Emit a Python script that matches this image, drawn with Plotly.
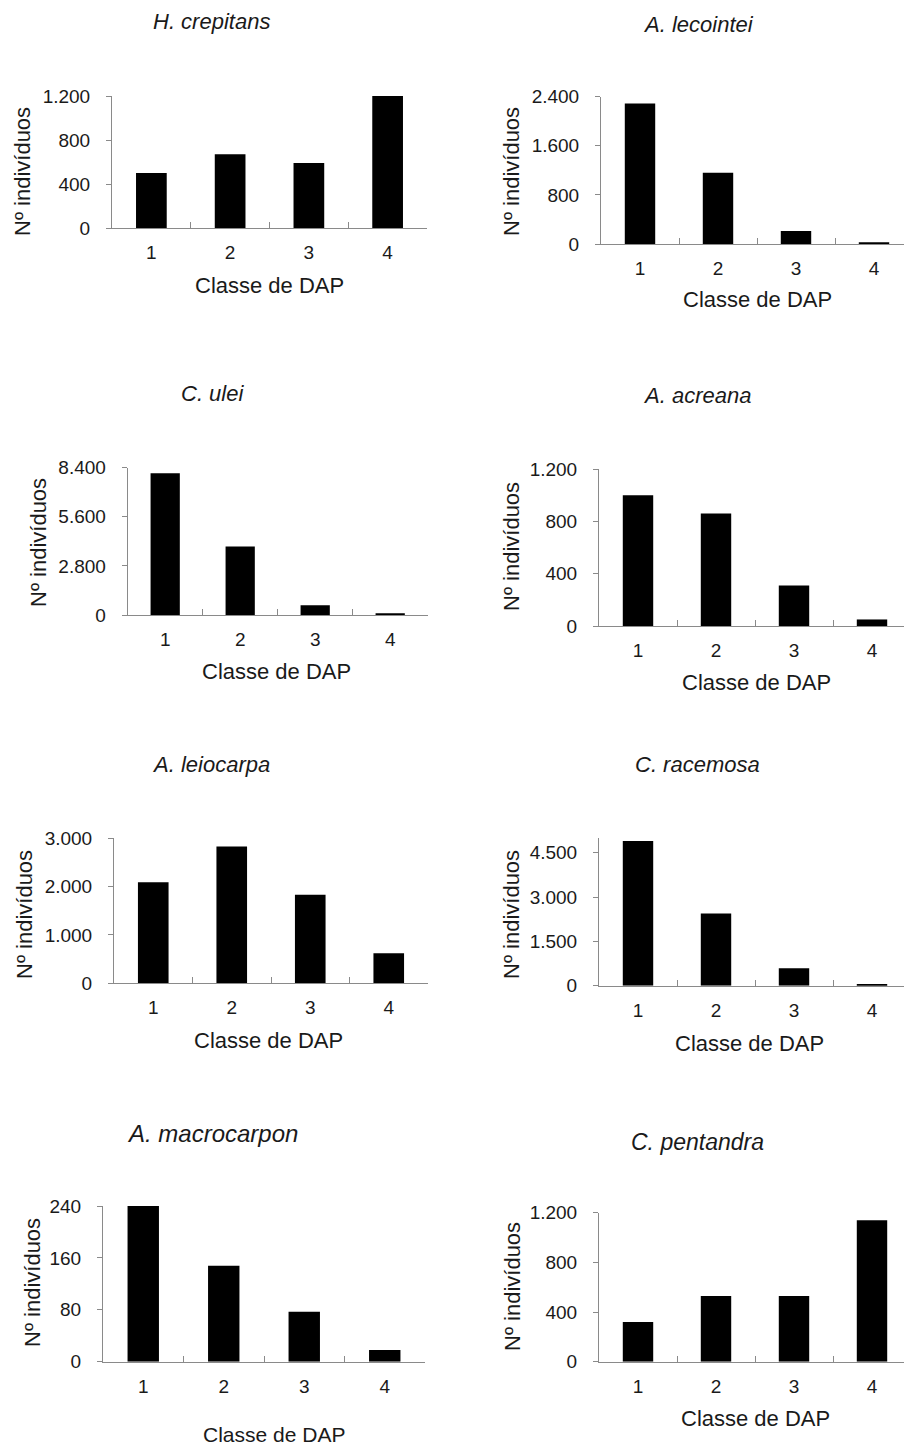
import plotly.graph_objects as go

W, H = 904, 1448

# ---- data ----
classes = ["1", "2", "3", "4"]
species = ["H. crepitans", "A. lecointei", "C. ulei", "A. acreana",
           "A. leiocarpa", "C. racemosa", "A. macrocarpon", "C. pentandra"]
h_crepitans = [500, 670, 590, 1200]
a_lecointei = [2290, 1160, 210, 30]
c_ulei = [8080, 3900, 550, 100]
a_acreana = [1000, 860, 310, 50]
a_leiocarpa = [2090, 2830, 1830, 620]
c_racemosa = [4900, 2440, 590, 60]
a_macrocarpon = [240, 148, 77, 18]
c_pentandra = [320, 530, 530, 1140]

ticks_hc = [0, 400, 800, 1200]
labels_hc = ["0", "400", "800", "1.200"]
ticks_al = [0, 800, 1600, 2400]
labels_al = ["0", "800", "1.600", "2.400"]
ticks_cu = [0, 2800, 5600, 8400]
labels_cu = ["0", "2.800", "5.600", "8.400"]
ticks_aa = [0, 400, 800, 1200]
labels_aa = ["0", "400", "800", "1.200"]
ticks_le = [0, 1000, 2000, 3000]
labels_le = ["0", "1.000", "2.000", "3.000"]
ticks_cr = [0, 1500, 3000, 4500]
labels_cr = ["0", "1.500", "3.000", "4.500"]
ticks_am = [0, 80, 160, 240]
labels_am = ["0", "80", "160", "240"]
ticks_cp = [0, 400, 800, 1200]
labels_cp = ["0", "400", "800", "1.200"]

x_title = "Classe de DAP"
y_title = "Nº indivíduos"

# ---- layout (pixel positions) ----
cfg = [
    (h_crepitans, ticks_hc, labels_hc, 1200, 112, 427, 96, 228, (211, 22, 22), (269, 285, 22), (23, 172)),
    (a_lecointei, ticks_al, labels_al, 2400, 601, 913, 96.7, 244, (698, 25, 22), (757, 300, 22), (512, 172)),
    (c_ulei, ticks_cu, labels_cu, 8400, 127.7, 427.7, 467.7, 615, (212, 393, 22), (276, 672, 22), (38, 543)),
    (a_acreana, ticks_aa, labels_aa, 1200, 599, 911, 469, 626, (697, 395, 22), (756, 682, 22), (512, 547)),
    (a_leiocarpa, ticks_le, labels_le, 3000, 114, 428, 838.3, 983.3, (211, 764, 22), (268, 1040, 22), (25, 915)),
    (c_racemosa, ticks_cr, labels_cr, 5000, 599, 911, 838, 985.7, (697.5, 764, 22), (749, 1043, 22), (512, 915)),
    (a_macrocarpon, ticks_am, labels_am, 240, 103, 425, 1206, 1361.7, (212, 1133, 24), (274, 1434, 21), (32, 1283)),
    (c_pentandra, ticks_cp, labels_cp, 1200, 599, 911, 1212.7, 1361.7, (697.5, 1142, 23), (755, 1418, 22), (512, 1287)),
]

FONT = "Liberation Sans, Arial, sans-serif"
AXC = "#8a8a8a"
TXT = "#1a1a1a"

fig = go.Figure()
annotations = []
layout = dict(
    template="none",
    width=W, height=H, autosize=False,
    margin=dict(l=0, r=0, t=0, b=0, pad=0, autoexpand=False),
    paper_bgcolor="white", plot_bgcolor="white",
    showlegend=False, bargap=0.61,
    font=dict(family=FONT, color=TXT),
)

for i, (vals, tv, tt, ymax, x0, x1, yt, yb, tpos, xtpos, ytpos) in enumerate(cfg):
    n = i + 1
    xa = "x" if n == 1 else f"x{n}"
    ya = "y" if n == 1 else f"y{n}"
    fig.add_trace(go.Bar(x=classes, y=vals, xaxis=xa, yaxis=ya,
                         marker=dict(color="black", line=dict(width=0))))
    cw = (x1 - x0) / 4.0
    x1v = min(x1, W)
    xend = -0.5 + (x1v - x0) / cw
    layout["xaxis" if n == 1 else f"xaxis{n}"] = dict(
        domain=[x0 / W, x1v / W], anchor=ya, type="category",
        range=[-0.5, xend], showgrid=False, zeroline=False, automargin=False,
        showline=True, linecolor=AXC, linewidth=1,
        ticks="inside", tickson="boundaries", ticklen=6, tickcolor=AXC,
        tickfont=dict(size=19, color=TXT, family=FONT),
        ticklabelstandoff=7, fixedrange=True,
    )
    layout["yaxis" if n == 1 else f"yaxis{n}"] = dict(
        domain=[1 - yb / H, 1 - yt / H], anchor=xa,
        range=[0, ymax], showgrid=False, zeroline=False, automargin=False,
        showline=True, linecolor=AXC, linewidth=1,
        ticks="outside", ticklen=5, tickcolor=AXC,
        tickvals=tv, ticktext=tt,
        tickfont=dict(size=19, color=TXT, family=FONT),
        ticklabelstandoff=12, fixedrange=True,
    )
    annotations.append(dict(
        text=f"<i>{species[i]}</i>", x=tpos[0] / W, y=1 - tpos[1] / H,
        xref="paper", yref="paper", xanchor="center", yanchor="middle",
        showarrow=False, font=dict(size=tpos[2], color=TXT, family=FONT)))
    annotations.append(dict(
        text=x_title, x=xtpos[0] / W, y=1 - xtpos[1] / H,
        xref="paper", yref="paper", xanchor="center", yanchor="middle",
        showarrow=False, font=dict(size=xtpos[2], color=TXT, family=FONT)))
    annotations.append(dict(
        text=y_title, x=ytpos[0] / W, y=1 - ytpos[1] / H, textangle=-90,
        xref="paper", yref="paper", xanchor="center", yanchor="middle",
        showarrow=False, font=dict(size=22, color=TXT, family=FONT)))

layout["annotations"] = annotations
fig.update_layout(**layout)
fig.write_html("out.html", config={"displayModeBar": False},
               post_script="document.body.style.margin='0';document.body.style.overflow='hidden';")
